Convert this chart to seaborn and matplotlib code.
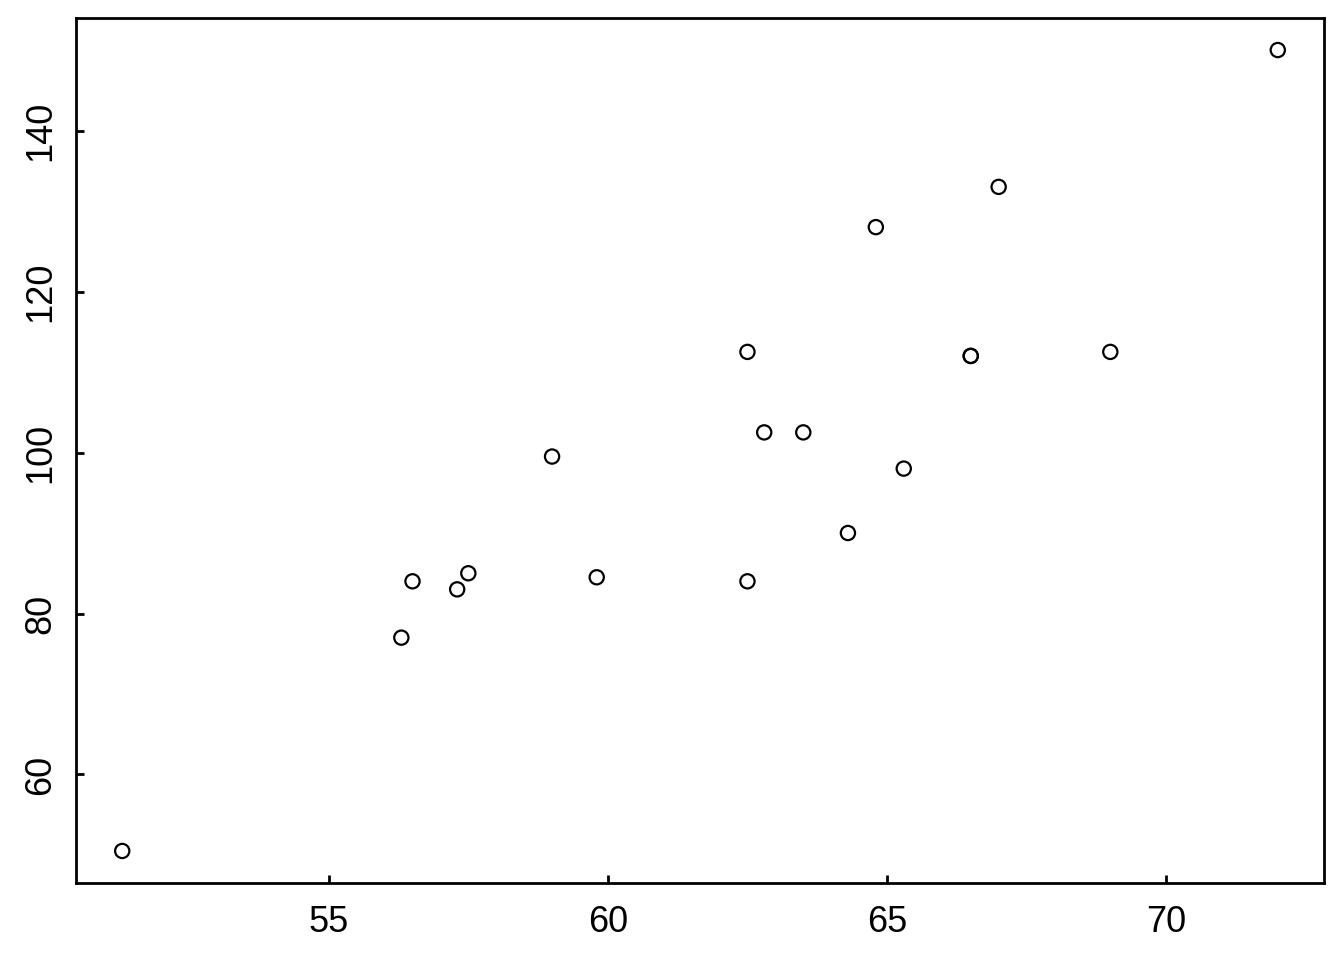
import pandas as pd
import matplotlib
matplotlib.use('Agg')
import matplotlib.pyplot as plt
import seaborn as sns

# 키(height)와 몸무게(weight) - class 데이터
height = [69.0, 56.5, 65.3, 62.8, 63.5, 57.3, 59.8, 62.5, 62.5, 59.0,
          51.3, 64.3, 56.3, 66.5, 72.0, 64.8, 67.0, 57.5, 66.5]
weight = [112.5, 84.0, 98.0, 102.5, 102.5, 83.0, 84.5, 112.5, 84.0, 99.5,
          50.5, 90.0, 77.0, 112.0, 150.0, 128.0, 133.0, 85.0, 112.0]
x_ticks = [55, 60, 65, 70]
y_ticks = [60, 80, 100, 120, 140]

df = pd.DataFrame({'height': height, 'weight': weight})

sns.set_style('white')
plt.rcParams['font.family'] = ['Liberation Sans', 'DejaVu Sans']

fig = plt.figure(figsize=(13.44, 9.6), dpi=100)
ax = fig.add_axes([76 / 1344, 1 - 883 / 960, 1248 / 1344, 865 / 960])

sns.scatterplot(data=df, x='height', y='weight', ax=ax,
                marker='o', s=105, facecolor='none', edgecolor='black', linewidth=1.6)

# R 스타일 4% 여백
xr = max(height) - min(height)
yr = max(weight) - min(weight)
ax.set_xlim(min(height) - 0.04 * xr, max(height) + 0.04 * xr)
ax.set_ylim(min(weight) - 0.04 * yr, max(weight) + 0.04 * yr)

ax.set_xticks(x_ticks)
ax.set_yticks(y_ticks)
ax.set_xticklabels([str(t) for t in x_ticks], fontsize=26)
ax.set_yticklabels([str(t) for t in y_ticks], fontsize=26, rotation=90, va='center')
ax.tick_params(direction='in', length=6, width=2, colors='black',
               bottom=True, left=True)
ax.tick_params(axis='x', pad=16)
ax.tick_params(axis='y', pad=13)
ax.set_xlabel('')
ax.set_ylabel('')
for sp in ax.spines.values():
    sp.set_visible(True)
    sp.set_color('black')
    sp.set_linewidth(2)

fig.savefig('out.png', dpi=100, facecolor='white')
